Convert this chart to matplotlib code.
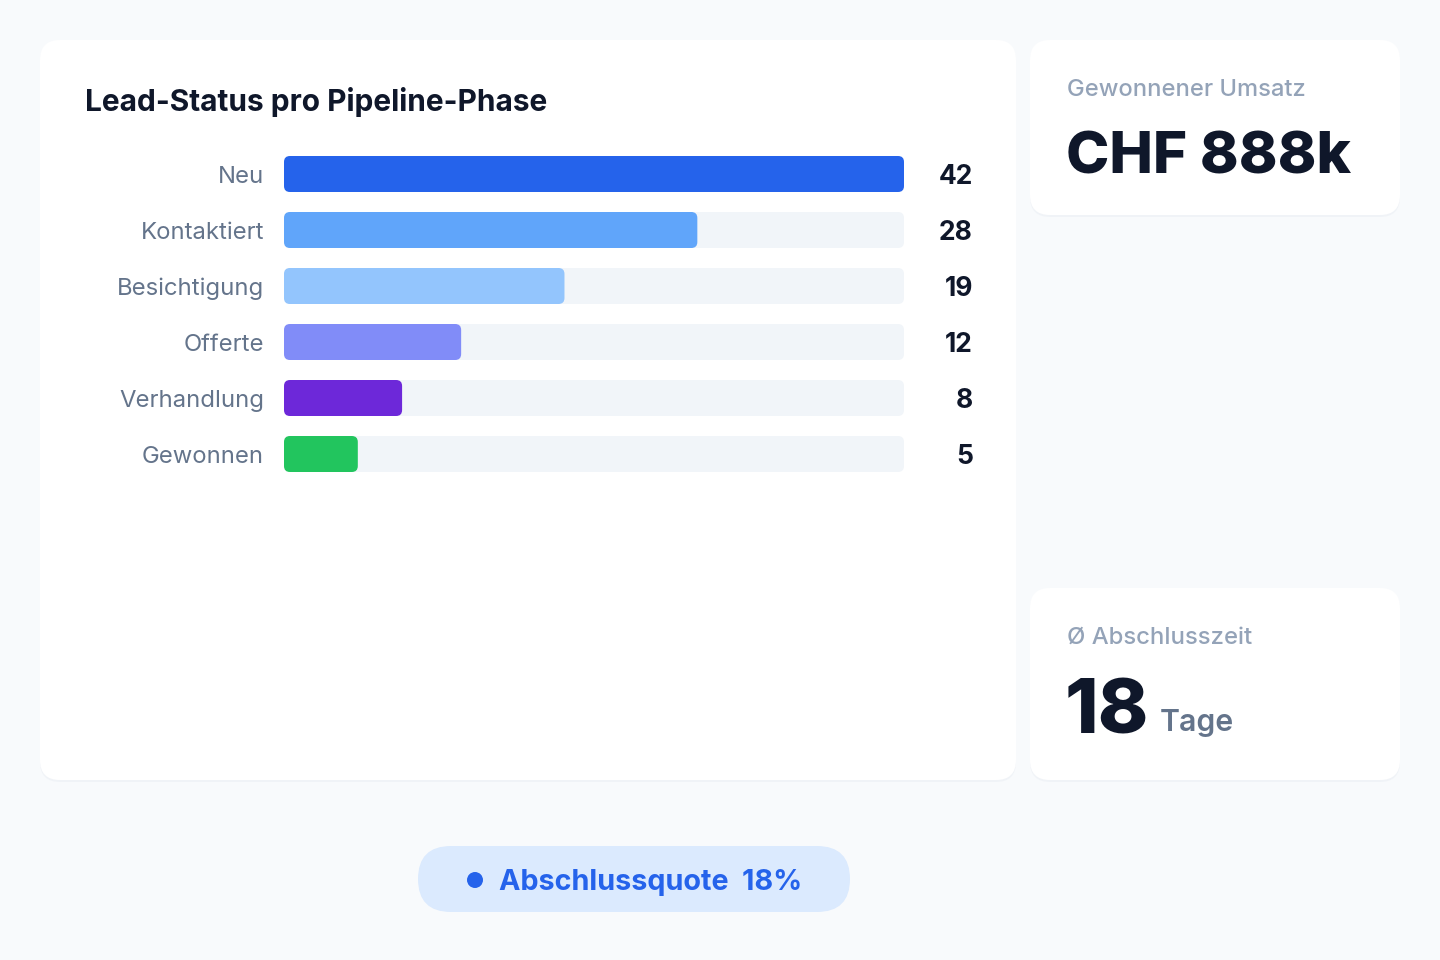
import matplotlib.pyplot as plt
from matplotlib.patches import FancyBboxPatch, Circle

# data
stages = ['Neu', 'Kontaktiert', 'Besichtigung', 'Offerte', 'Verhandlung', 'Gewonnen']
leads = [42, 28, 19, 12, 8, 5]
stage_colors = ['#2563eb', '#60a5fa', '#93c5fd', '#818cf8', '#6d28d9', '#22c55e']
title = 'Lead-Status pro Pipeline-Phase'
revenue_label = 'Gewonnener Umsatz'
revenue_value = 'CHF 888k'
close_time_label = 'Ø Abschlusszeit'
close_time_value = '18'
close_time_unit = 'Tage'
win_rate_label = 'Abschlussquote  18%'

FONT = ['Inter', 'DejaVu Sans']
plt.rcParams['font.family'] = FONT

W, H = 1440, 960
fig = plt.figure(figsize=(W / 100, H / 100), dpi=100)
fig.patch.set_facecolor('#f8fafc')

# overlay axes in pixel coordinates for cards and text
bg = fig.add_axes([0, 0, 1, 1])
bg.set_xlim(0, W)
bg.set_ylim(H, 0)
bg.axis('off')


def card(x0, y0, x1, y1, r=20, fc='white'):
    # faint shadow then card
    bg.add_patch(FancyBboxPatch((x0, y0 + 2), x1 - x0, y1 - y0,
                                boxstyle=f'round,pad=0,rounding_size={r}',
                                fc='#e2e8f0', ec='none', alpha=0.35, zorder=1))
    bg.add_patch(FancyBboxPatch((x0, y0), x1 - x0, y1 - y0,
                                boxstyle=f'round,pad=0,rounding_size={r}',
                                fc=fc, ec='none', zorder=2))


card(40, 40, 1016, 780)
card(1030, 40, 1400, 215)
card(1030, 588, 1400, 780)

# pill
bg.add_patch(FancyBboxPatch((418, 846), 432, 66,
                            boxstyle='round,pad=0,rounding_size=33',
                            fc='#dbeafe', ec='none', zorder=2))
bg.add_patch(Circle((475, 880), 8, fc='#2563eb', ec='none', zorder=3))
bg.text(499, 883, win_rate_label, fontsize=20.7, fontweight='bold', color='#2563eb',
        ha='left', va='center', zorder=3)

# title
bg.text(85, 102, title, fontsize=21.5, fontweight='bold', color='#0f172a',
        ha='left', va='center', zorder=3)

# KPI cards
bg.text(1067, 90, revenue_label, fontsize=17.1, fontweight='medium', color='#94a3b8',
        ha='left', va='center', zorder=3)
bg.text(1066, 174, revenue_value, fontsize=42, fontweight='heavy', color='#0f172a',
        ha='left', va='baseline', zorder=3)

bg.text(1067, 638, close_time_label, fontsize=17.2, fontweight='medium', color='#94a3b8',
        ha='left', va='center', zorder=3)
bg.text(1065, 733, close_time_value, fontsize=55, fontweight='heavy', color='#0f172a',
        ha='left', va='baseline', zorder=3)
bg.text(1160, 731, close_time_unit, fontsize=21.8, fontweight='semibold', color='#64748b',
        ha='left', va='baseline', zorder=3)

# bar chart axes: track from x=284 to 904, rows of 56 px from y=146
x0, x1 = 284, 904
y_top, row = 146, 56
n = len(stages)
ax = fig.add_axes([x0 / W, 1 - (y_top + n * row) / H, (x1 - x0) / W, n * row / H])
ax.set_zorder(5)
ax.patch.set_alpha(0)
vmax = max(leads)
ax.set_xlim(0, vmax)
ax.set_ylim(n - 0.5, -0.5)
ax.axis('off')

bar_h = 36 / row
px_x = (x1 - x0) / vmax  # px per data unit in x
aspect = px_x / row
rad = 6 / px_x

for i, (name, val, col) in enumerate(zip(stages, leads, stage_colors)):
    ax.add_patch(FancyBboxPatch((0, i - bar_h / 2), vmax, bar_h,
                                boxstyle=f'round,pad=0,rounding_size={rad}',
                                mutation_aspect=aspect, fc='#f1f5f9', ec='none',
                                clip_on=False))
    ax.add_patch(FancyBboxPatch((0, i - bar_h / 2), val, bar_h,
                                boxstyle=f'round,pad=0,rounding_size={rad}',
                                mutation_aspect=aspect, fc=col, ec='none',
                                clip_on=False))
    ax.annotate(name, xy=(0, i), xytext=(-20, -3), textcoords='offset pixels',
                ha='right', va='center', fontsize=17.2, color='#64748b',
                annotation_clip=False)
    ax.annotate(str(val), xy=(vmax, i), xytext=(69, -3), textcoords='offset pixels',
                ha='right', va='center', fontsize=19, fontweight='bold',
                color='#0f172a', annotation_clip=False)

fig.savefig('out.png', dpi=100, facecolor=fig.get_facecolor())
